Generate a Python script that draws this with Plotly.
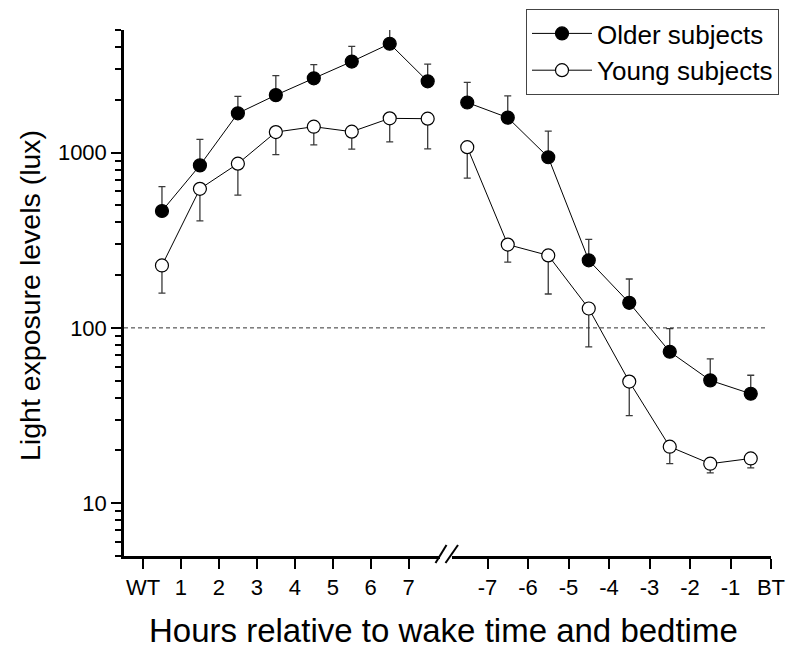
import plotly.graph_objects as go

# ---- data ----
wake_hours = [0.5, 1.5, 2.5, 3.5, 4.5, 5.5, 6.5, 7.5]
bed_hours = [-7.5, -6.5, -5.5, -4.5, -3.5, -2.5, -1.5, -0.5]

older_wake = [464, 845, 1675, 2126, 2651, 3304, 4175, 2549]
older_wake_err = [176, 343, 415, 620, 525, 726, 870, 643]      # upward SEM
young_wake = [227, 621, 864, 1309, 1404, 1315, 1567, 1560]
young_wake_err = [69, 213, 293, 335, 297, 270, 415, 510]       # downward SEM

older_bed = [1929, 1582, 940, 243, 139, 73.1, 50.2, 42.1]
older_bed_err = [585, 525, 386, 77, 51, 26, 16.4, 11.6]
young_bed = [1073, 298.6, 259, 129, 49.4, 21.0, 16.8, 18.0]
young_bed_err = [358, 61.6, 103, 51, 17.8, 4.2, 1.9, 2.1]

wake_tickvals = [0, 1, 2, 3, 4, 5, 6, 7]
wake_ticktext = ["WT", "1", "2", "3", "4", "5", "6", "7"]
bed_tickvals = [-7, -6, -5, -4, -3, -2, -1, 0]
bed_ticktext = ["-7", "-6", "-5", "-4", "-3", "-2", "-1", "BT"]

y_major = [10, 100, 1000]
y_minor = [5, 6, 7, 8, 9, 20, 30, 40, 50, 60, 70, 80, 90,
           200, 300, 400, 500, 600, 700, 800, 900, 2000, 3000, 4000, 5000]
threshold = 100

FONT = "Liberation Sans, Arial, sans-serif"
ERRC = "#3a3a3a"

fig = go.Figure()

def add_series(x, y, err, xa, filled, name, show, up):
    fig.add_trace(go.Scatter(
        x=x, y=y, xaxis=xa, yaxis="y", name=name, showlegend=show,
        legendgroup=name, mode="lines+markers",
        line=dict(color="black", width=1),
        marker=dict(size=13, color="black" if filled else "white",
                    line=dict(color="black", width=1.2)),
        error_y=dict(type="data", symmetric=False,
                     array=err if up else [0] * len(err),
                     arrayminus=[0] * len(err) if up else err,
                     color=ERRC, thickness=1.3, width=3.5),
    ))

add_series(wake_hours, older_wake, older_wake_err, "x", True, "Older subjects", True, True)
add_series(bed_hours, older_bed, older_bed_err, "x2", True, "Older subjects", False, True)
add_series(wake_hours, young_wake, young_wake_err, "x", False, "Young subjects", True, False)
add_series(bed_hours, young_bed, young_bed_err, "x2", False, "Young subjects", False, False)

# page offset (default body margin of the html page)
OFF = 8
W, H = 800, 655
PL, PT, PR, PB = 124, 30, 771, 556   # plot area in page pixels
L, T = PL - OFF, PT - OFF
R = W - (PR - OFF)
B = H - (PB - OFF)
pw, ph = W - L - R, H - T - B

def px(xp):
    return (xp - OFF - L) / pw

def py(yp):
    return (H - B - (yp - OFF)) / ph

x1_end = px(440)
x2_start = px(452)

axis_common = dict(showline=True, linecolor="black", linewidth=2.5,
                   ticks="outside", ticklen=10, tickwidth=2, tickcolor="black",
                   showgrid=False, zeroline=False, mirror=False,
                   tickfont=dict(family=FONT, size=22, color="black"))

fig.update_layout(
    width=W, height=H,
    margin=dict(l=L, r=R, t=T, b=B, autoexpand=False),
    paper_bgcolor="white", plot_bgcolor="white",
    font=dict(family=FONT, color="black"),
    xaxis=dict(domain=[0, x1_end], range=[-0.5, -0.5 + 316 / 37.96],
               tickmode="array", tickvals=wake_tickvals, ticktext=wake_ticktext,
               anchor="y", **axis_common),
    xaxis2=dict(domain=[x2_start, 1], range=[-319 / 40.5, 0],
                tickmode="array", tickvals=bed_tickvals, ticktext=bed_ticktext,
                anchor="y", **axis_common),
    yaxis=dict(type="log", range=[0.69897, 3.69897],
               tickmode="array", tickvals=y_major,
               ticktext=[str(v) for v in y_major],
               minor=dict(ticks="outside", ticklen=6, tickwidth=1.5,
                          tickcolor="black", tickmode="array", tickvals=y_minor,
                          showgrid=False),
               **axis_common),
    showlegend=True,
    legend=dict(x=px(526), y=py(9), xanchor="left", yanchor="top",
                bordercolor="#444", borderwidth=1, bgcolor="white",
                font=dict(family=FONT, size=26, color="black"),
                itemwidth=60, tracegroupgap=0),
)

# dashed reference line at 100 lux
fig.add_shape(type="line", xref="paper", yref="y", x0=0, x1=px(765),
              y0=threshold, y1=threshold,
              line=dict(color="#333", width=1, dash="4px,3px"))

# axis break marks
for xa, xb in [(435.5, 446.5), (445.5, 458)]:
    fig.add_shape(type="line", xref="paper", yref="paper",
                  x0=px(xa), y0=py(563), x1=px(xb), y1=py(545),
                  line=dict(color="black", width=2))

# axis titles
fig.add_annotation(text="Light exposure levels (lux)", xref="paper", yref="paper",
                   x=px(30), y=py(296), textangle=-90, showarrow=False,
                   xanchor="center", yanchor="middle",
                   font=dict(family=FONT, size=28.5, color="black"))
fig.add_annotation(text="Hours relative to wake time and bedtime", xref="paper",
                   yref="paper", x=px(443), y=py(630), showarrow=False,
                   xanchor="center", yanchor="middle",
                   font=dict(family=FONT, size=33, color="black"))

fig.write_html("out.html")
